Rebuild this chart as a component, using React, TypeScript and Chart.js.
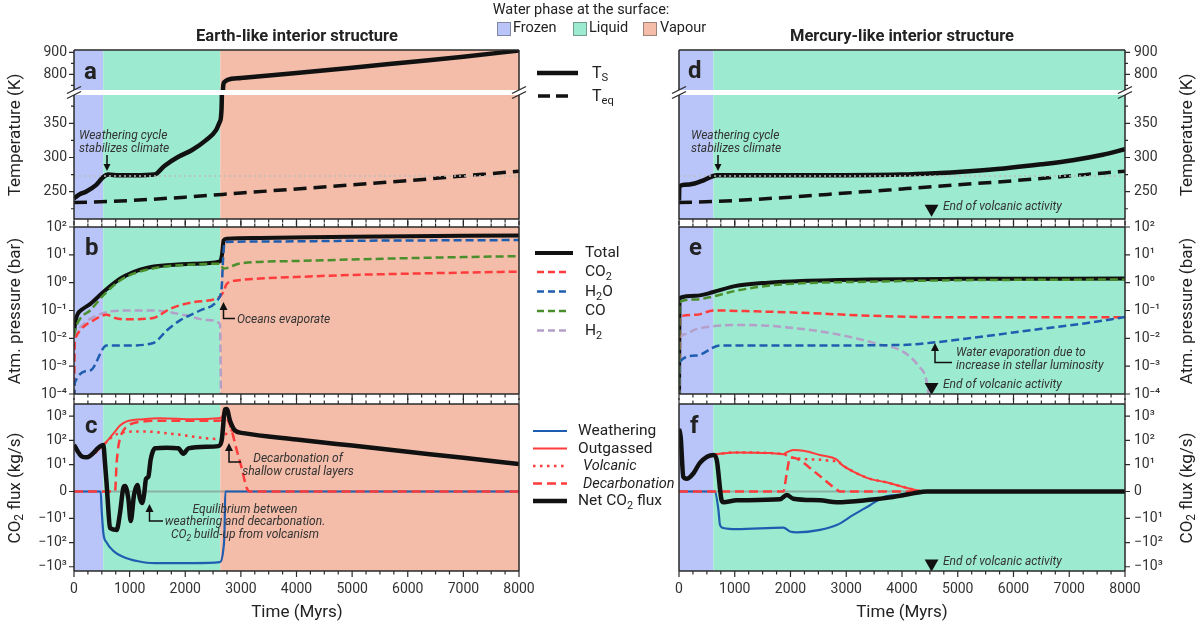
import React, { useEffect, useRef } from 'react';
import { Chart, registerables } from 'chart.js';

Chart.register(...registerables);

type P = [number, number];
type Phase = [number, number, string];

// ---------------- axis ticks ----------------
const timeTicks = [0, 1000, 2000, 3000, 4000, 5000, 6000, 7000, 8000];
const timeMinorStep = 250;
const tempUpperTicks = [800, 900];
const tempUpperMinor = [750, 850];
const tempUpperRange: P = [728.6, 910.5];
const tempLowerTicks = [250, 300, 350];
const tempLowerMinor = [225, 275, 325, 375];
const tempLowerRange: P = [210, 391.4];
const pressureTicks = [1e-4, 1e-3, 1e-2, 1e-1, 1, 10, 100];
const pressureRange: P = [1e-4, 1e2];
const fluxTicks = [-1000, -100, -10, 0, 10, 100, 1000];
const fluxRange: P = [-1500, 3200];

// ---------------- surface water phase ----------------
const earthPhases: Phase[] = [[0, 525, 'Frozen'], [525, 2630, 'Liquid'], [2630, 8000, 'Vapour']];
const mercuryPhases: Phase[] = [[0, 616, 'Frozen'], [616, 8000, 'Liquid']];
const phaseColors: Record<string, string> = { Frozen: '#b9c5f9', Liquid: '#9ceacf', Vapour: '#f3bda9' };

const freezingLine: P[] = [[0, 273], [8000, 273]];
const zeroLine: P[] = [[0, 0], [8000, 0]];

// ---------------- temperatures (K) ----------------
const earthTs: P[] = [[0, 240], [100, 246], [215, 250], [400, 260], [523, 271], [615, 275], [800, 274], [1100, 274], [1446, 275], [1630, 288], [1877, 301], [2123, 311], [2369, 325], [2554, 340], [2620, 352], [2645, 362], [2662, 420], [2680, 740], [2700, 764], [2760, 775], [3000, 783], [4000, 806], [5000, 830], [6000, 855], [7000, 880], [8000, 908]];
const earthTeq: P[] = [[0, 234], [1000, 237], [2000, 242], [3000, 248], [4000, 254], [5000, 260], [6000, 266], [7000, 273], [8000, 280]];
const mercuryTs: P[] = [[0, 237], [5, 257], [100, 260], [278, 262], [450, 267], [678, 274], [1500, 274], [2500, 274], [3978, 275], [4595, 277], [5200, 280], [5829, 284], [6500, 290], [7062, 296], [7600, 304], [8000, 312]];
const mercuryTeq: P[] = [[0, 234], [1000, 237], [2000, 242], [3000, 248], [4000, 254], [5000, 260], [6000, 266], [7000, 273], [8000, 280]];

// ---------------- atmospheric pressures (bar) ----------------
const earthPTotal: P[] = [[0, 0.012], [15, 0.03], [60, 0.07], [150, 0.11], [288, 0.17], [527, 0.46], [827, 1.38], [1067, 2.4], [1306, 3.4], [1666, 4.2], [2145, 4.8], [2625, 5.8], [2660, 10], [2690, 33], [2745, 38], [3344, 40], [5000, 45], [8000, 50]];
const earthPCO2: P[] = [[0, 1e-5], [10, 0.005], [18, 0.0083], [108, 0.019], [348, 0.044], [587, 0.07], [737, 0.054], [947, 0.048], [1426, 0.054], [1726, 0.115], [2145, 0.2], [2595, 0.29], [2685, 0.46], [2745, 0.91], [2925, 1.2], [3344, 1.4], [4000, 1.6], [5000, 1.9], [6000, 2.1], [7000, 2.3], [8000, 2.5]];
const earthPH2O: P[] = [[0, 1e-5], [15, 2.6e-4], [288, 7e-4], [587, 0.0055], [947, 0.0055], [1426, 0.0068], [1666, 0.019], [1906, 0.044], [2265, 0.1], [2595, 0.26], [2655, 0.69], [2685, 11], [2715, 29], [3344, 30], [5000, 32], [8000, 34]];
const earthPCO: P[] = [[0, 0.012], [18, 0.019], [108, 0.05], [288, 0.1], [527, 0.35], [827, 1.2], [1067, 2.1], [1546, 3.6], [2145, 4.5], [2625, 4.8], [2685, 3.2], [2985, 4.9], [4000, 6], [5000, 6.8], [6000, 7.6], [7000, 8.3], [8000, 9]];
const earthPH2: P[] = [[0, 1e-5], [15, 0.012], [60, 0.022], [288, 0.05], [587, 0.087], [947, 0.1], [1426, 0.1], [2025, 0.066], [2385, 0.046], [2625, 0.033], [2645, 1e-5]];

const mercuryPTotal: P[] = [[0, 1e-5], [8, 0.28], [300, 0.34], [616, 0.46], [1000, 0.75], [1600, 1.0], [2200, 1.15], [3400, 1.3], [5000, 1.37], [8000, 1.4]];
const mercuryPCO: P[] = [[0, 1e-5], [8, 0.2], [300, 0.25], [616, 0.32], [1000, 0.5], [1600, 0.78], [2200, 0.95], [3400, 1.08], [5000, 1.22], [8000, 1.3]];
const mercuryPCO2: P[] = [[0, 1e-5], [8, 0.06], [300, 0.07], [616, 0.1], [1200, 0.095], [2400, 0.08], [3400, 0.065], [5000, 0.057], [8000, 0.057]];
const mercuryPH2O: P[] = [[0, 1e-5], [8, 0.0014], [300, 0.0024], [735, 0.0055], [2000, 0.0055], [4000, 0.0058], [4600, 0.0072], [5500, 0.012], [6500, 0.022], [7300, 0.035], [8000, 0.058]];
const mercuryPH2: P[] = [[0, 1e-5], [8, 0.008], [100, 0.014], [300, 0.021], [616, 0.027], [1000, 0.03], [1500, 0.029], [2000, 0.024], [2600, 0.017], [3000, 0.012], [3600, 0.006], [4000, 0.0035], [4300, 0.001], [4440, 0.0003], [4480, 0.00008]];

// ---------------- CO2 fluxes (kg/s) ----------------
const earthFNet: P[] = [[0, 64], [138, 22], [228, 20], [527, 64], [557, 12], [587, 2.7], [617, -6.7], [647, -25], [767, -30], [827, -8], [887, 1.3], [917, 2], [977, -2.7], [1019, -13], [1079, -1.3], [1139, 2.4], [1187, -2.7], [1223, -4.3], [1259, -1.3], [1295, 4.7], [1336, 5.4], [1378, 16], [1456, 47], [1666, 50], [1876, 47], [1966, 28], [2056, 47], [2385, 55], [2595, 58], [2655, 100], [2715, 1900], [2745, 2000], [2805, 650], [2895, 257], [3045, 200], [4000, 110], [5000, 61], [6000, 34], [7000, 19], [8000, 10.5]];
const earthFOut: P[] = [[0, 64], [138, 22], [228, 20], [527, 64], [707, 190], [827, 410], [947, 610], [1247, 750], [1546, 830], [2145, 750], [2595, 820], [2655, 900], [2715, 1900], [2745, 2000], [2805, 650], [2895, 257], [3045, 200], [4000, 110], [5000, 61], [6000, 34], [7000, 19], [8000, 10.5]];
const earthFVolc: P[] = [[0, 64], [138, 22], [228, 20], [527, 64], [650, 120], [737, 170], [800, 190], [947, 225], [1247, 235], [1846, 178], [2445, 118], [2625, 115], [2700, 150], [2805, 260], [2895, 257], [3045, 200], [4000, 110], [5000, 61], [6000, 34], [7000, 19], [8000, 10.5]];
const earthFDecarb: P[] = [[0, 0], [737, 0], [767, 12], [797, 55], [857, 190], [947, 370], [1247, 610], [1546, 650], [2595, 650], [2700, 720], [2745, 750], [2835, 257], [2925, 40], [3015, 8.7], [3105, 1.3], [3165, 0], [8000, 0]];
const earthFWeath: P[] = [[0, 0], [479, 0], [497, -6.7], [527, -40], [587, -100], [707, -220], [947, -450], [1247, -650], [1546, -710], [2145, -710], [2625, -650], [2685, -190], [2705, -40], [2720, 0], [8000, 0]];

const mercuryFNet: P[] = [[0, 300], [30, 138], [78, 5.4], [138, 4.7], [257, 6.7], [377, 12], [616, 25], [676, 16], [765, -3.3], [795, -4], [1035, -3.3], [1812, -2.9], [1932, -1.3], [2051, -2.7], [2530, -3.3], [2829, -4], [3427, -3.1], [3800, -2.2], [4000, -1.5], [4200, -0.7], [4450, 0], [8000, 0]];
const mercuryFOut: P[] = [[0, 300], [30, 138], [78, 5.4], [138, 4.7], [257, 6.7], [377, 12], [616, 25], [735, 28], [1035, 32], [1633, 30], [1872, 27], [1932, 32], [2051, 40], [2231, 37], [2530, 25], [2829, 16], [2918, 10], [3127, 7.4], [3427, 4.7], [3700, 3.5], [4000, 1.8], [4300, 0.3], [4450, 0], [8000, 0]];
const mercuryFVolc: P[] = [[0, 300], [30, 138], [78, 5.4], [138, 4.7], [257, 6.7], [377, 12], [616, 25], [735, 28], [1035, 32], [1633, 30], [1872, 27], [1932, 24], [1990, 20], [2051, 19], [2231, 17], [2530, 16], [2769, 14], [2829, 15], [2918, 10], [3127, 7.4], [3427, 4.7], [3700, 3.5], [4000, 1.8], [4300, 0.3], [4450, 0], [8000, 0]];
const mercuryFDecarb: P[] = [[0, 0], [1872, 0], [1932, 6.7], [1992, 19], [2051, 19], [2231, 12], [2350, 8.7], [2589, 4.7], [2829, 0.7], [2888, 0], [8000, 0]];
const mercuryFWeath: P[] = [[0, 0], [646, 0], [706, -6.7], [736, -19], [795, -25], [1035, -28], [1872, -24], [1992, -35], [2111, -38], [2530, -30], [2829, -19], [3127, -8.7], [3427, -5.1], [3670, -2.1], [3978, -1.2], [4287, -0.4], [4450, 0], [8000, 0]];

// end of volcanic activity markers (Mercury-like case)
const volcanicEndTime = 4530;
const endMarkerTemp: P[] = [[volcanicEndTime, 225]];
const endMarkerPressure: P[] = [[volcanicEndTime, 1.8e-4]];
const endMarkerFlux: P[] = [[volcanicEndTime, -740]];

// ---------------- helpers ----------------
const FONT = "Roboto, 'Noto Sans', 'DejaVu Sans', sans-serif";
Chart.defaults.font.family = FONT;

const RED = '#ff3b3b';
const BLUE = '#1f5db0';
const GREEN = '#4a8f2c';
const PURPLE = '#b39fc8';
const BLACK = '#111111';
const INK = '#2a2a2a';

const SUP: Record<string, string> = { '0': '⁰', '1': '¹', '2': '²', '3': '³', '4': '⁴', '5': '⁵', '6': '⁶', '7': '⁷', '8': '⁸', '9': '⁹', '-': '⁻' };
const sup = (s: string) => s.split('').map((ch) => SUP[ch] || ch).join('');
const pressureLabel = (v: number) => '10' + sup(String(Math.round(Math.log10(v))));
const fluxLabel = (v: number) => (v === 0 ? '0' : (v < 0 ? '−' : '') + '10' + sup(String(Math.round(Math.log10(Math.abs(v))))));

const LINSCALE = 1 / (1 - 0.1);
const symlog = (v: number) => (Math.abs(v) < 10 ? (v / 10) * LINSCALE : Math.sign(v) * (LINSCALE + Math.log10(Math.abs(v) / 10)));

const line = (data: P[], color: string, width: number, dash: number[], order: number, tf: (y: number) => number = (y) => y) => ({
  data: data.map(([x, y]) => ({ x, y: tf(y) })),
  borderColor: color,
  borderWidth: width,
  borderDash: dash,
  borderCapStyle: 'butt',
  borderJoinStyle: 'round',
  pointRadius: 0,
  fill: false,
  cubicInterpolationMode: 'monotone',
  order,
  clip: 0,
});

const marker = (data: P[], tf: (y: number) => number = (y) => y) => ({
  data: data.map(([x, y]) => ({ x, y: tf(y) })),
  showLine: false,
  pointStyle: 'triangle',
  rotation: 180,
  pointRadius: 8,
  pointBackgroundColor: BLACK,
  pointBorderColor: BLACK,
  pointBorderWidth: 0,
  order: -5,
  clip: 0,
});

interface Spec {
  col: 'L' | 'R';
  top: number;
  bottom: number;
  yType: 'linear' | 'logarithmic';
  yMin: number;
  yMax: number;
  yTicks: number[];
  yFmt: (v: number, i: number) => string;
  yMinor?: number[];
  showX: boolean;
  tickTop: boolean;
  tickBottom: boolean;
  sides: string;
  phases: Phase[];
  datasets: any[];
}

const COLS = { L: { left: 74, right: 519 }, R: { left: 679, right: 1125 } };
const ROWS = { aU: [50, 90], aL: [95, 219], b: [227, 394], c: [404, 571] };

function decoPlugin(spec: Spec) {
  return {
    id: 'deco',
    beforeDatasetsDraw(chart: any) {
      const { ctx, chartArea: a, scales } = chart;
      const x = scales.x;
      ctx.save();
      for (const [s, e, name] of spec.phases) {
        const x0 = x.getPixelForValue(s);
        const x1 = x.getPixelForValue(e);
        ctx.fillStyle = phaseColors[name];
        ctx.fillRect(x0, a.top, x1 - x0, a.bottom - a.top);
      }
      ctx.restore();
    },
    afterDraw(chart: any) {
      const { ctx, chartArea: a, scales } = chart;
      const x = scales.x;
      const y = scales.y;
      ctx.save();
      ctx.strokeStyle = INK;
      ctx.lineWidth = 1.2;
      ctx.beginPath();
      for (let v = timeTicks[0]; v <= timeTicks[timeTicks.length - 1]; v += timeMinorStep) {
        const px = x.getPixelForValue(v);
        const len = timeTicks.includes(v) ? 6 : 3.5;
        if (spec.tickTop) {
          ctx.moveTo(px, a.top);
          ctx.lineTo(px, a.top - len);
        }
        if (spec.tickBottom) {
          ctx.moveTo(px, a.bottom);
          ctx.lineTo(px, a.bottom + len);
        }
      }
      const ex = spec.col === 'L' ? a.left : a.right;
      const dir = spec.col === 'L' ? -1 : 1;
      for (const v of spec.yTicks) {
        const py = y.getPixelForValue(v);
        ctx.moveTo(ex, py);
        ctx.lineTo(ex + dir * 5, py);
      }
      for (const v of spec.yMinor || []) {
        const py = y.getPixelForValue(v);
        ctx.moveTo(ex, py);
        ctx.lineTo(ex + dir * 3, py);
      }
      ctx.stroke();
      ctx.lineWidth = 1.5;
      ctx.beginPath();
      if (spec.sides.includes('t')) {
        ctx.moveTo(a.left, a.top);
        ctx.lineTo(a.right, a.top);
      }
      if (spec.sides.includes('b')) {
        ctx.moveTo(a.left, a.bottom);
        ctx.lineTo(a.right, a.bottom);
      }
      if (spec.sides.includes('l')) {
        ctx.moveTo(a.left, a.top);
        ctx.lineTo(a.left, a.bottom);
      }
      if (spec.sides.includes('r')) {
        ctx.moveTo(a.right, a.top);
        ctx.lineTo(a.right, a.bottom);
      }
      ctx.stroke();
      ctx.restore();
    },
  };
}

function makeChart(canvas: HTMLCanvasElement, spec: Spec) {
  const c = COLS[spec.col];
  const xH = spec.showX ? 40 : 0;
  const yW = spec.col === 'L' ? c.left : 1200 - c.right;
  return new Chart(canvas, {
    type: 'line',
    data: { datasets: spec.datasets },
    options: {
      animation: false,
      responsive: true,
      maintainAspectRatio: false,
      events: [],
      layout: {
        padding: {
          left: spec.col === 'L' ? 0 : c.left,
          right: spec.col === 'L' ? 1200 - c.right : 0,
          top: spec.top,
          bottom: 626 - spec.bottom - xH,
        },
      },
      plugins: { legend: { display: false }, tooltip: { enabled: false }, title: { display: false } },
      scales: {
        x: {
          type: 'linear',
          min: timeTicks[0],
          max: timeTicks[timeTicks.length - 1],
          display: spec.showX,
          position: 'bottom',
          grid: { display: false, drawTicks: false },
          border: { display: false },
          afterBuildTicks: (s: any) => {
            s.ticks = timeTicks.map((v) => ({ value: v }));
          },
          afterFit: (s: any) => {
            s.height = xH;
          },
          ticks: { padding: 10, maxRotation: 0, autoSkip: false, color: '#333', font: { size: 14 }, callback: (v: any) => String(v) },
        },
        y: {
          type: spec.yType,
          min: spec.yMin,
          max: spec.yMax,
          position: spec.col === 'L' ? 'left' : 'right',
          grid: { display: false, drawTicks: false },
          border: { display: false },
          afterBuildTicks: (s: any) => {
            s.ticks = spec.yTicks.map((v) => ({ value: v }));
          },
          afterFit: (s: any) => {
            s.width = yW;
          },
          ticks: {
            padding: spec.col === 'L' ? 7 : 9,
            autoSkip: false,
            color: '#333',
            font: { size: 14 },
            callback: (v: any, i: number) => spec.yFmt(Number(v), i),
          },
        },
      },
    } as any,
    plugins: [decoPlugin(spec) as any],
  });
}

function buildSpecs(): Spec[] {
  const specs: Spec[] = [];
  const cols: ('L' | 'R')[] = ['L', 'R'];
  for (const col of cols) {
    const earth = col === 'L';
    const phases = earth ? earthPhases : mercuryPhases;
    const ts = earth ? earthTs : mercuryTs;
    const teq = earth ? earthTeq : mercuryTeq;
    specs.push({
      col, top: ROWS.aU[0], bottom: ROWS.aU[1], yType: 'linear', yMin: tempUpperRange[0], yMax: tempUpperRange[1],
      yTicks: tempUpperTicks, yMinor: tempUpperMinor, yFmt: (v) => String(v), showX: false, tickTop: false, tickBottom: false,
      sides: 'tlr', phases,
      datasets: [line(ts, BLACK, 4.5, [], 1), line(teq, BLACK, 3.5, [13, 7], 2)],
    });
    const lowerSets: any[] = [line(freezingLine, '#bdbdbd', 1.6, [2, 3], 0), line(ts, BLACK, 4.5, [], 1), line(teq, BLACK, 3.5, [13, 7], 2)];
    if (!earth) lowerSets.push(marker(endMarkerTemp));
    specs.push({
      col, top: ROWS.aL[0], bottom: ROWS.aL[1], yType: 'linear', yMin: tempLowerRange[0], yMax: tempLowerRange[1],
      yTicks: tempLowerTicks, yMinor: tempLowerMinor, yFmt: (v) => String(v), showX: false, tickTop: false, tickBottom: true,
      sides: 'lrb', phases, datasets: lowerSets,
    });
    const pSets: any[] = earth
      ? [line(earthPTotal, BLACK, 4, [], 6), line(earthPCO2, RED, 2.5, [8, 4], 4), line(earthPH2O, BLUE, 2.5, [8, 4], 3), line(earthPCO, GREEN, 2.5, [8, 4], 2), line(earthPH2, PURPLE, 2.5, [8, 4], 5)]
      : [line(mercuryPTotal, BLACK, 4, [], 6), line(mercuryPCO2, RED, 2.5, [8, 4], 4), line(mercuryPH2O, BLUE, 2.5, [8, 4], 3), line(mercuryPCO, GREEN, 2.5, [8, 4], 2), line(mercuryPH2, PURPLE, 2.5, [8, 4], 5), marker(endMarkerPressure)];
    specs.push({
      col, top: ROWS.b[0], bottom: ROWS.b[1], yType: 'logarithmic', yMin: pressureRange[0], yMax: pressureRange[1],
      yTicks: pressureTicks, yFmt: (v) => pressureLabel(v), showX: false, tickTop: true, tickBottom: true,
      sides: 'tlrb', phases, datasets: pSets,
    });
    const net = earth ? earthFNet : mercuryFNet;
    const out = earth ? earthFOut : mercuryFOut;
    const volc = earth ? earthFVolc : mercuryFVolc;
    const dec = earth ? earthFDecarb : mercuryFDecarb;
    const wea = earth ? earthFWeath : mercuryFWeath;
    const fSets: any[] = [
      line(net, BLACK, 4.5, [], 1, symlog),
      line(volc, RED, 2.5, [2.5, 4.5], 2, symlog),
      line(out, RED, 2, [], 3, symlog),
      line(dec, RED, 2.5, [9, 5], 4, symlog),
      line(wea, BLUE, 2.2, [], 5, symlog),
      line(zeroLine, 'rgba(110,110,110,0.45)', 2, [], 6, symlog),
    ];
    if (!earth) fSets.push(marker(endMarkerFlux, symlog));
    specs.push({
      col, top: ROWS.c[0], bottom: ROWS.c[1], yType: 'linear', yMin: symlog(fluxRange[0]), yMax: symlog(fluxRange[1]),
      yTicks: fluxTicks.map(symlog), yFmt: (_v, i) => fluxLabel(fluxTicks[i]), showX: true, tickTop: true, tickBottom: true,
      sides: 'tlrb', phases, datasets: fSets,
    });
  }
  return specs;
}

// ---------------- overlay (titles, legends, annotations) ----------------
const Sub = ({ children }: { children: React.ReactNode }) => (
  <sub style={{ fontSize: '0.7em', verticalAlign: '-0.3em', lineHeight: 0 }}>{children}</sub>
);

interface TxtProps {
  x: number;
  y: number;
  size?: number;
  align?: 'left' | 'center' | 'right';
  bold?: boolean;
  italic?: boolean;
  rot?: boolean;
  lh?: number;
  color?: string;
  children: React.ReactNode;
}
const Txt = ({ x, y, size = 14, align = 'left', bold, italic, rot, lh, color = '#222', children }: TxtProps) => {
  const tx = align === 'left' ? '0' : align === 'center' ? '-50%' : '-100%';
  return (
    <div
      style={{
        position: 'absolute',
        left: x,
        top: y,
        transform: rot ? 'translate(-50%,-50%) rotate(-90deg)' : `translate(${tx},-50%)`,
        fontSize: size,
        fontWeight: bold ? 700 : 400,
        fontStyle: italic ? 'italic' : 'normal',
        whiteSpace: 'nowrap',
        lineHeight: lh ? `${lh}px` : 1,
        color,
        textAlign: align,
        fontFamily: FONT,
      }}
    >
      {children}
    </div>
  );
};

const ArrowUp = ({ x, tip, corner, end }: { x: number; tip: number; corner: number; end: number }) => (
  <g>
    <polyline points={`${end},${corner} ${x},${corner} ${x},${tip + 6}`} fill="none" stroke="#111" strokeWidth={1.5} />
    <polygon points={`${x},${tip} ${x - 4},${tip + 8} ${x + 4},${tip + 8}`} fill="#111" />
  </g>
);
const ArrowDown = ({ x, y0, y1 }: { x: number; y0: number; y1: number }) => (
  <g>
    <line x1={x} y1={y0} x2={x} y2={y1 - 5} stroke="#111" strokeWidth={1.5} />
    <polygon points={`${x},${y1} ${x - 3.5},${y1 - 7} ${x + 3.5},${y1 - 7}`} fill="#111" />
  </g>
);

function Overlay() {
  const breaks = [74, 519, 679, 1125];
  const legendLine = (x1: number, x2: number, y: number, color: string, w: number, dash?: string) => (
    <line x1={x1} x2={x2} y1={y} y2={y} stroke={color} strokeWidth={w} strokeDasharray={dash} />
  );
  return (
    <>
      <svg width={1200} height={626} style={{ position: 'absolute', left: 0, top: 0 }}>
        {breaks.map((bx) => (
          <g key={bx}>
            <line x1={bx - 7} y1={90 + 3.5} x2={bx + 7} y2={90 - 3.5} stroke={INK} strokeWidth={1.3} />
            <line x1={bx - 7} y1={95 + 3.5} x2={bx + 7} y2={95 - 3.5} stroke={INK} strokeWidth={1.3} />
          </g>
        ))}
        {legendLine(537, 578, 73, BLACK, 4.5)}
        {legendLine(538, 574, 96, BLACK, 3.5, '12 6')}
        {legendLine(535, 573, 253, BLACK, 4)}
        {legendLine(537, 568, 272, RED, 2.5, '7 4')}
        {legendLine(537, 568, 291.5, BLUE, 2.5, '7 4')}
        {legendLine(537, 568, 311, GREEN, 2.5, '7 4')}
        {legendLine(537, 568, 330.5, PURPLE, 2.5, '7 4')}
        {legendLine(533, 567, 431, BLUE, 2.2)}
        {legendLine(533, 567, 448.5, RED, 2)}
        {legendLine(533, 567, 466, RED, 2.5, '2.5 4.5')}
        {legendLine(533, 567, 483.5, RED, 2.5, '9 5')}
        {legendLine(533, 567, 501, BLACK, 4.5)}
        <ArrowDown x={107} y0={155} y1={171} />
        <ArrowDown x={718} y0={155} y1={171} />
        <ArrowUp x={223.5} tip={302} corner={318.5} end={235} />
        <ArrowUp x={229} tip={443} corner={462} end={241} />
        <ArrowUp x={149.5} tip={504} corner={521} end={163} />
        <ArrowUp x={935} tip={343} corner={362.5} end={952} />
      </svg>

      {/* top legend */}
      <Txt x={581} y={9.5} size={14.5} align="center">Water phase at the surface:</Txt>
      {[
        ['Frozen', 497, 513],
        ['Liquid', 573, 589],
        ['Vapour', 643, 660],
      ].map(([name, sx, tx]) => (
        <React.Fragment key={name as string}>
          <div style={{ position: 'absolute', left: sx as number, top: 21.5, width: 12, height: 12, background: phaseColors[name as string], border: '1px solid rgba(60,60,60,0.45)' }} />
          <Txt x={tx as number} y={28} size={14.5}>{name}</Txt>
        </React.Fragment>
      ))}

      {/* column titles */}
      <Txt x={297} y={36} size={16.5} bold align="center">Earth-like interior structure</Txt>
      <Txt x={902} y={36} size={16.5} bold align="center">Mercury-like interior structure</Txt>

      {/* panel letters */}
      <Txt x={84} y={71} size={24} bold>a</Txt>
      <Txt x={85} y={247} size={24} bold>b</Txt>
      <Txt x={85} y={425} size={24} bold>c</Txt>
      <Txt x={688} y={70} size={24} bold>d</Txt>
      <Txt x={689} y={247} size={24} bold>e</Txt>
      <Txt x={690} y={425} size={24} bold>f</Txt>

      {/* axis titles */}
      <Txt x={14} y={134.5} size={17} rot>Temperature (K)</Txt>
      <Txt x={14} y={310.5} size={17} rot>Atm. pressure (bar)</Txt>
      <Txt x={14} y={487.5} size={17} rot>CO<Sub>2</Sub> flux (kg/s)</Txt>
      <Txt x={1186} y={134.5} size={17} rot>Temperature (K)</Txt>
      <Txt x={1186} y={310.5} size={17} rot>Atm. pressure (bar)</Txt>
      <Txt x={1186} y={487.5} size={17} rot>CO<Sub>2</Sub> flux (kg/s)</Txt>
      <Txt x={297} y={611} size={17} align="center">Time (Myrs)</Txt>
      <Txt x={902} y={611} size={17} align="center">Time (Myrs)</Txt>

      {/* middle legends */}
      <Txt x={592} y={73} size={16}>T<Sub>S</Sub></Txt>
      <Txt x={592} y={96} size={16}>T<Sub>eq</Sub></Txt>
      <Txt x={585} y={253} size={15.5}>Total</Txt>
      <Txt x={585} y={272} size={15.5}>CO<Sub>2</Sub></Txt>
      <Txt x={585} y={291.5} size={15.5}>H<Sub>2</Sub>O</Txt>
      <Txt x={585} y={311} size={15.5}>CO</Txt>
      <Txt x={585} y={330.5} size={15.5}>H<Sub>2</Sub></Txt>
      <Txt x={578} y={431} size={15.5}>Weathering</Txt>
      <Txt x={578} y={448.5} size={15.5}>Outgassed</Txt>
      <Txt x={583} y={466} size={14.5} italic>Volcanic</Txt>
      <Txt x={583} y={483.5} size={14.5} italic>Decarbonation</Txt>
      <Txt x={578} y={501} size={15.5}>Net CO<Sub>2</Sub> flux</Txt>

      {/* annotations */}
      <Txt x={79} y={141} size={12} italic lh={12.5} color="#333">Weathering cycle<br />stabilizes climate</Txt>
      <Txt x={691} y={141} size={12} italic lh={12.5} color="#333">Weathering cycle<br />stabilizes climate</Txt>
      <Txt x={237} y={318.5} size={12} italic color="#333">Oceans evaporate</Txt>
      <Txt x={298} y={464} size={12} italic align="center" lh={12.5} color="#333">Decarbonation of<br />shallow crustal layers</Txt>
      <Txt x={245} y={521.5} size={12} italic align="center" lh={12.5} color="#333">Equilibrium between<br />weathering and decarbonation.<br />CO<Sub>2</Sub> build-up from volcanism</Txt>
      <Txt x={956} y={358} size={12} italic lh={12.5} color="#333">Water evaporation due to<br />increase in stellar luminosity</Txt>
      <Txt x={943} y={205.5} size={12} italic color="#333">End of volcanic activity</Txt>
      <Txt x={943} y={383.5} size={12} italic color="#333">End of volcanic activity</Txt>
      <Txt x={943} y={560.5} size={12} italic color="#333">End of volcanic activity</Txt>
    </>
  );
}

export default function App() {
  const refs = useRef<(HTMLCanvasElement | null)[]>([]);
  useEffect(() => {
    const specs = buildSpecs();
    const charts = specs.map((s, i) => makeChart(refs.current[i] as HTMLCanvasElement, s));
    return () => charts.forEach((c) => c.destroy());
  }, []);
  return (
    <div style={{ position: 'fixed', left: 0, top: 0, width: 1200, height: 626, background: '#fff', overflow: 'hidden', fontFamily: FONT }}>
      {Array.from({ length: 8 }).map((_, i) => (
        <div key={i} style={{ position: 'absolute', left: 0, top: 0, width: 1200, height: 626 }}>
          <canvas ref={(el) => { refs.current[i] = el; }} />
        </div>
      ))}
      <Overlay />
    </div>
  );
}
